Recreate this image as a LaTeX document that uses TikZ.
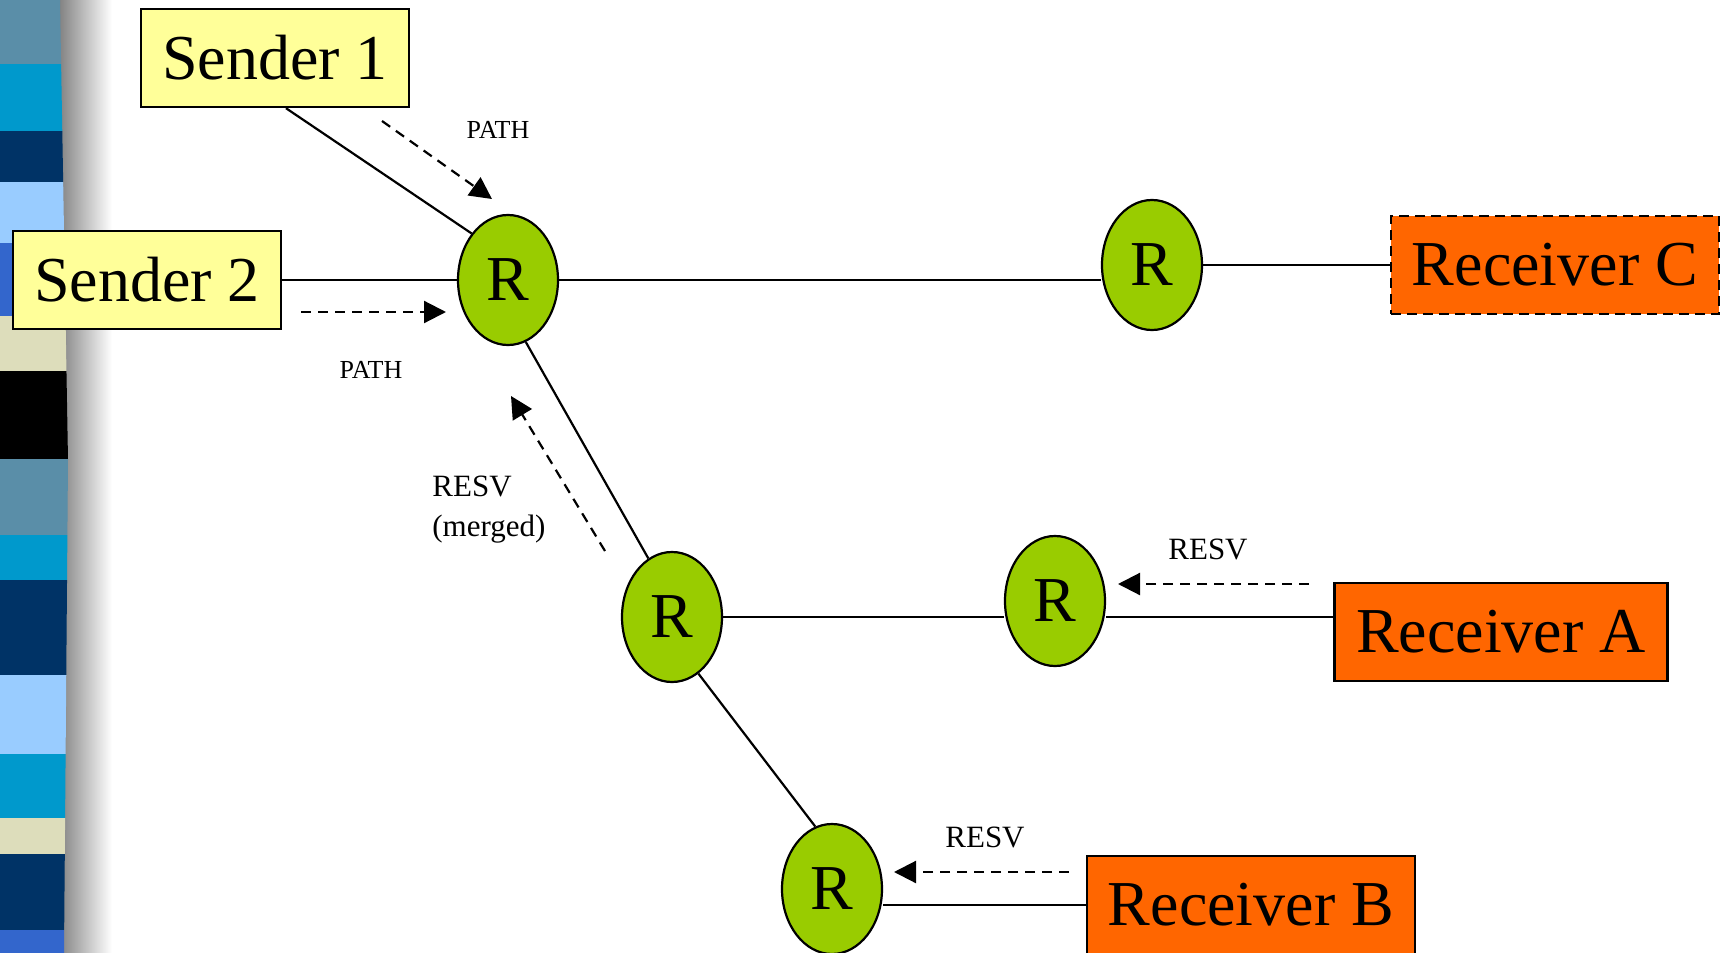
\documentclass[tikz,border=0pt]{standalone}
\usepackage{fontspec}
\setmainfont{Liberation Serif}
\usepackage{xcolor}
\usepackage{tikz}
\usetikzlibrary{arrows.meta,positioning,shapes.geometric}
\definecolor{sendyellow}{HTML}{FFFF99}
\definecolor{recvorange}{HTML}{FF6600}
\definecolor{routergreen}{HTML}{99CC00}
\definecolor{barsteel}{HTML}{5A8EA8}
\definecolor{barcyan}{HTML}{0099CC}
\definecolor{barnavy}{HTML}{003366}
\definecolor{barsky}{HTML}{99CCFF}
\definecolor{barroyal}{HTML}{3366CC}
\definecolor{barsand}{HTML}{DDDDBB}
\tikzset{
  sender/.style={draw=black, fill=sendyellow, line width=1.2pt, minimum width=134pt, minimum height=49pt, inner sep=0pt, font=\fontsize{32}{36}\selectfont},
  receiver/.style={draw=black, fill=recvorange, line width=1.2pt, minimum width=164pt, minimum height=49pt, inner sep=0pt, font=\fontsize{32}{36}\selectfont},
  router/.style={ellipse, draw=black, fill=routergreen, line width=1.1pt, minimum width=50pt, minimum height=65pt, inner sep=0pt, font=\fontsize{32}{36}\selectfont},
  link/.style={line width=1.1pt, draw=black},
  msg/.style={-{Triangle[length=11pt, width=11pt]}, dash pattern=on 5pt off 3.5pt, line width=1.1pt, draw=black},
  pathlabel/.style={font=\fontsize{13}{15}\selectfont, inner sep=0pt},
  resvlabel/.style={font=\fontsize{15.5}{20}\selectfont, inner sep=0pt, align=left}
}
\begin{document}
\begin{tikzpicture}[x=0.5pt, y=-0.5pt, on grid]
  \useasboundingbox (0,0) rectangle (1725,953);
  % side bar with its shadow
  \shade[left color=black!50, right color=white] (58,0) rectangle (112,953);
  \begin{scope}
    \clip (0,0) -- (60,0) -- (68,460) -- (64,953) -- (0,953) -- cycle;
    \foreach \ya/\yb/\col in {0/64/barsteel, 64/131/barcyan, 131/182/barnavy, 182/243/barsky,
        243/316/barroyal, 316/371/barsand, 371/459/black, 459/535/barsteel, 535/580/barcyan,
        580/675/barnavy, 675/754/barsky, 754/818/barcyan, 818/854/barsand, 854/930/barnavy,
        930/953/barroyal}
      \fill[\col] (0,\ya) rectangle (70,\yb);
  \end{scope}

  \node[router] (r1) at (508,280) {R};
  \node[sender, left=180.5pt of r1] (s2) {Sender 2};
  \node[sender, above left=111pt and 116.5pt of r1] (s1) {Sender 1};
  \node[router, above right=7.5pt and 322pt of r1] (r2) {R};
  \node[receiver, right=201.5pt of r2, dash pattern=on 5pt off 3pt] (recC) {Receiver C};
  \node[router, below right=168.5pt and 82pt of r1] (r3) {R};
  \node[router, above right=8pt and 191.5pt of r3] (r4) {R};
  \node[receiver, minimum width=166.5pt, below right=15.5pt and 223pt of r4] (recA) {Receiver A};
  \node[router, below right=136pt and 80pt of r3] (r5) {R};
  \node[receiver, below right=8pt and 209.5pt of r5] (recB) {Receiver B};

  \draw[link] ([xshift=5.5pt]s1.south) -- (r1.128);
  \draw[link] (r1.west -| s2.east) -- (r1.west);
  \draw[link] (r1.east) -- (r1.east -| r2.west);
  \draw[link] (r2.east) -- (r2.east -| recC.west);
  \draw[link] (r1.-74) -- (r3.112);
  \draw[link] (r3.east) -- (r3.east -| r4.west);
  \draw[link] (r3.east -| r4.east) -- (r3.east -| recA.west);
  \draw[link] (r3.-65) -- (r5.105);
  \draw[link] (recB.west -| r5.east) -- (recB.west);

  \coordinate (pathonefrom) at (382,121);
  \coordinate (pathoneto) at (492,199);
  \coordinate (pathtwofrom) at (301,312);
  \coordinate (pathtwoto) at (446,312);
  \coordinate (mergedfrom) at (605,551);
  \coordinate (mergedto) at (511,396);
  \coordinate (resvafrom) at (1309,584);
  \coordinate (resvato) at (1118,584);
  \coordinate (resvbfrom) at (1069,872);
  \coordinate (resvbto) at (894,872);
  \draw[msg] (pathonefrom) -- (pathoneto);
  \draw[msg] (pathtwofrom) -- (pathtwoto);
  \draw[msg] (mergedfrom) -- (mergedto);
  \draw[msg] (resvafrom) -- (resvato);
  \draw[msg] (resvbfrom) -- (resvbto);

  \node[pathlabel] (pathone) at (498,130) {PATH};
  \node[pathlabel] (pathtwo) at (371,370) {PATH};
  \node[resvlabel, anchor=west] (merged) at (432,510) {RESV\\(merged)};
  \node[resvlabel] (resva) at (1208,549) {RESV};
  \node[resvlabel] (resvb) at (985,837) {RESV};
\end{tikzpicture}
\end{document}
